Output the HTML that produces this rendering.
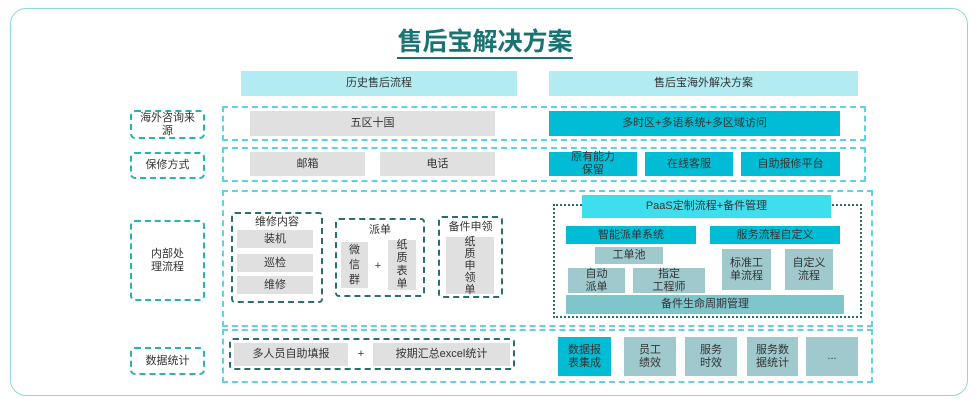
<!DOCTYPE html>
<html><head><meta charset="utf-8"><style>
*{margin:0;padding:0;box-sizing:border-box}
body{width:977px;height:402px;background:#fff;position:relative;overflow:hidden;font-family:"Liberation Sans","Noto Sans CJK SC",sans-serif;font-size:11px;color:#333}
div{position:absolute}
.c{display:flex;align-items:center;justify-content:center;text-align:center;line-height:13px}
.g{background:#e0e0e0}
.t{background:#00bcd4}
.h{background:#b2ebf2}
.s{background:#9fc9cd}
.m{background:#7fc5cc}
.lb{border:2px dashed #26b3b3;border-radius:5px}
.od{border:2px dashed #5fd3e3}
.dd{border:2px dashed #2b6e6e;border-radius:4px}
.v{writing-mode:vertical-rl;letter-spacing:1px}
</style></head><body>
<div style="left:10px;top:8px;width:958px;height:388px;border:1px solid #8fd8d8;border-radius:16px"></div>
<div class="c" style="left:370px;top:26px;width:230px;height:34px;font-size:25px;font-weight:bold;color:#1a7373;"><span style="border-bottom:2px solid #1a7373;line-height:30px">售后宝解决方案</span></div>

<div class="c h" style="left:241px;top:71px;width:276px;height:25px">历史售后流程</div>
<div class="c h" style="left:549px;top:71px;width:309px;height:25px">售后宝海外解决方案</div>

<!-- labels -->
<div class="c lb" style="left:130px;top:110px;width:75px;height:29px">海外咨询来<br>源</div>
<div class="c lb" style="left:130px;top:152px;width:75px;height:27px">保修方式</div>
<div class="c lb" style="left:130px;top:220px;width:75px;height:81px">内部处<br>理流程</div>
<div class="c lb" style="left:130px;top:347px;width:75px;height:28px">数据统计</div>

<!-- row1 -->
<div class="od" style="left:222px;top:106px;width:644px;height:35px"></div>
<div class="c g" style="left:250px;top:111px;width:245px;height:25px">五区十国</div>
<div class="c t" style="left:549px;top:111px;width:291px;height:25px">多时区+多语系统+多区域访问</div>
<!-- row2 -->
<div class="od" style="left:222px;top:147px;width:644px;height:35px"></div>
<div class="c g" style="left:250px;top:152px;width:115px;height:24px">邮箱</div>
<div class="c g" style="left:380px;top:152px;width:115px;height:24px">电话</div>
<div class="c t" style="left:549px;top:152px;width:88px;height:24px">原有能力<br>保留</div>
<div class="c t" style="left:645px;top:152px;width:88px;height:24px">在线客服</div>
<div class="c t" style="left:741px;top:152px;width:99px;height:24px">自助报修平台</div>
<!-- row3 -->
<div class="od" style="left:222px;top:190px;width:651px;height:137px"></div>
<div class="dd" style="left:231px;top:212px;width:92px;height:91px"></div>
<div class="c" style="left:231px;top:214px;width:92px;height:16px">维修内容</div>
<div class="c g" style="left:237px;top:230px;width:76px;height:18px">装机</div>
<div class="c g" style="left:237px;top:254px;width:76px;height:18px">巡检</div>
<div class="c g" style="left:237px;top:276px;width:76px;height:18px">维修</div>
<div class="dd" style="left:335px;top:218px;width:90px;height:79px"></div>
<div class="c" style="left:335px;top:222px;width:90px;height:16px">派单</div>
<div class="c g" style="left:341px;top:242px;width:27px;height:46px;line-height:15px">微<br>信<br>群</div>
<div class="c" style="left:372px;top:258px;width:12px;height:16px">+</div>
<div class="c g" style="left:388px;top:240px;width:28px;height:50px;line-height:13px">纸<br>质<br>表<br>单</div>
<div class="dd" style="left:438px;top:216px;width:65px;height:82px"></div>
<div class="c" style="left:438px;top:220px;width:65px;height:14px">备件申领</div>
<div class="c g" style="left:446px;top:237px;width:48px;height:57px;line-height:12px">纸<br>质<br>申<br>领<br>单</div>

<div style="left:553px;top:204px;width:309px;height:114px;border:2px dotted #2b6e6e"></div>
<div class="c" style="left:582px;top:195px;width:249px;height:23px;background:#3fdeee">PaaS定制流程+备件管理</div>
<div class="c t" style="left:566px;top:226px;width:130px;height:18px">智能派单系统</div>
<div class="c t" style="left:710px;top:226px;width:130px;height:18px">服务流程自定义</div>
<div class="c s" style="left:595px;top:247px;width:68px;height:17px">工单池</div>
<div class="c s" style="left:568px;top:268px;width:57px;height:25px">自动<br>派单</div>
<div class="c s" style="left:633px;top:268px;width:72px;height:25px">指定<br>工程师</div>
<div class="c s" style="left:722px;top:249px;width:49px;height:41px">标准工<br>单流程</div>
<div class="c s" style="left:785px;top:249px;width:48px;height:41px">自定义<br>流程</div>
<div class="c m" style="left:566px;top:295px;width:278px;height:19px">备件生命周期管理</div>
<!-- row4 -->
<div class="od" style="left:222px;top:329px;width:651px;height:54px"></div>
<div class="dd" style="left:229px;top:338px;width:286px;height:32px"></div>
<div class="c g" style="left:234px;top:343px;width:114px;height:23px">多人员自助填报</div>
<div class="c" style="left:354px;top:346px;width:14px;height:16px">+</div>
<div class="c g" style="left:373px;top:343px;width:137px;height:23px">按期汇总excel统计</div>
<div class="c t" style="left:558px;top:337px;width:53px;height:39px">数据报<br>表集成</div>
<div class="c s" style="left:624px;top:337px;width:52px;height:39px">员工<br>绩效</div>
<div class="c s" style="left:685px;top:337px;width:52px;height:39px">服务<br>时效</div>
<div class="c s" style="left:747px;top:337px;width:51px;height:39px">服务数<br>据统计</div>
<div class="c s" style="left:806px;top:337px;width:52px;height:39px">...</div>
</body></html>
